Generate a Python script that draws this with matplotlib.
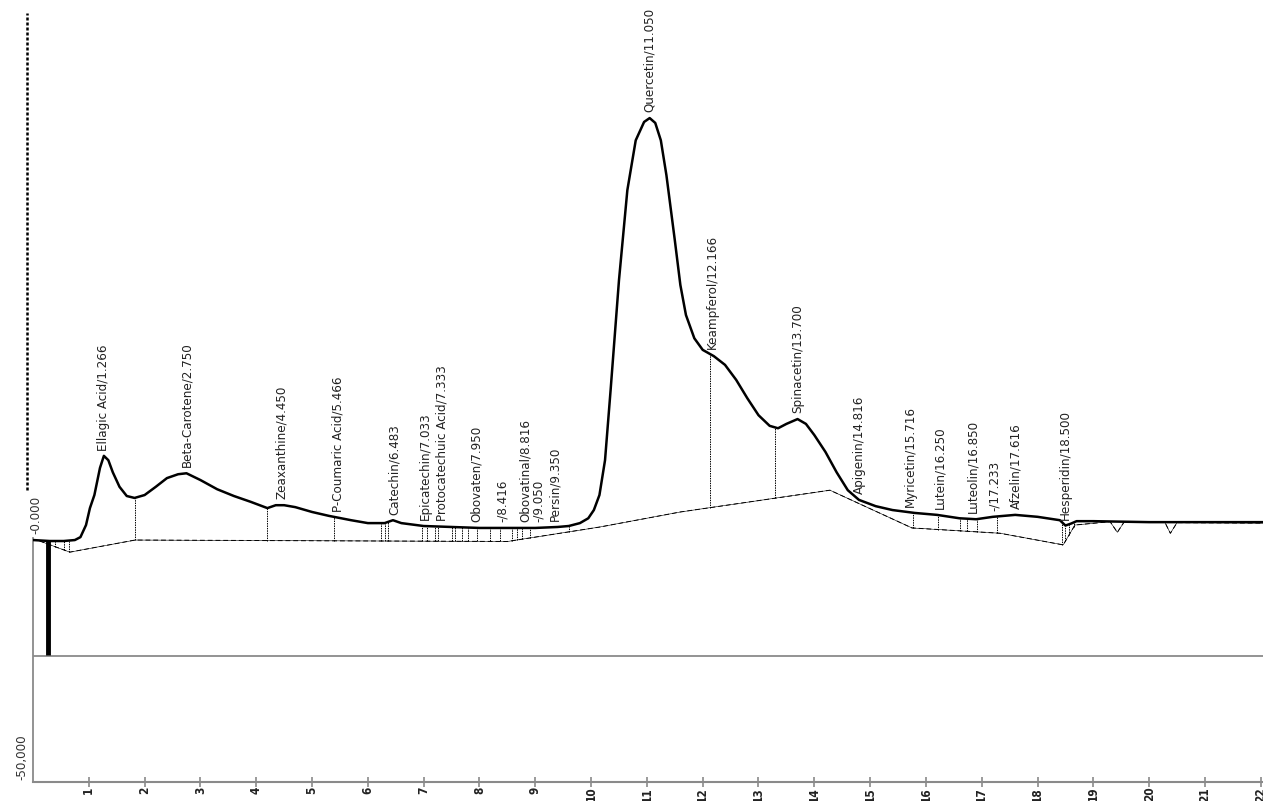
import numpy as np
import matplotlib
matplotlib.use('Agg')
import matplotlib.pyplot as plt

plt.rcParams['font.family'] = ['DejaVu Sans']
plt.rcParams['font.stretch'] = 'condensed'

# ---------------- data (retention time in min, signal in thousands) ----------------
t_sig = [0.0, 0.3, 0.55, 0.75, 0.85, 0.95, 1.02, 1.1, 1.2, 1.27, 1.35, 1.43, 1.55, 1.68,
         1.82, 2.0, 2.2, 2.4, 2.6, 2.75, 3.0, 3.3, 3.6, 3.9, 4.2, 4.35, 4.5, 4.7, 5.0,
         5.3, 5.7, 6.0, 6.3, 6.45, 6.6, 7.0, 7.5, 8.0, 8.5, 9.0, 9.4, 9.6, 9.8, 9.95,
         10.05, 10.15, 10.25, 10.35, 10.5, 10.65, 10.8, 10.95, 11.05, 11.15, 11.25, 11.35,
         11.5, 11.6, 11.7, 11.85, 12.0, 12.2, 12.4, 12.6, 12.8, 13.0, 13.2, 13.35, 13.5,
         13.7, 13.85, 14.0, 14.2, 14.4, 14.6, 14.8, 15.1, 15.4, 15.8, 16.2, 16.6, 16.9,
         17.2, 17.6, 18.0, 18.4, 18.5, 18.6, 18.7, 19.0, 20.0, 21.0, 22.1]
v_sig = [0.0, -0.2, -0.2, 0.0, 0.6, 3.1, 6.6, 9.3, 14.9, 17.4, 16.5, 14.0, 11.0, 9.1,
         8.7, 9.3, 11.0, 12.8, 13.6, 13.8, 12.4, 10.5, 9.1, 7.9, 6.6, 7.2, 7.2, 6.8, 5.8,
         5.0, 4.1, 3.5, 3.5, 4.1, 3.5, 2.9, 2.7, 2.5, 2.5, 2.5, 2.7, 2.9, 3.5, 4.5,
         6.2, 9.3, 16.5, 31.0, 53.7, 72.3, 82.6, 86.4, 87.2, 86.2, 82.6, 75.4,
         62.0, 52.7, 46.5, 41.7, 39.3, 38.0, 36.2, 33.1, 29.3, 25.8, 23.6, 23.1, 24.0,
         25.0, 24.0, 21.7, 18.2, 14.0, 10.3, 8.3, 7.0, 6.2, 5.6, 5.2, 4.5, 4.3,
         4.8, 5.2, 4.8, 4.1, 3.0, 3.4, 3.9, 3.9, 3.7, 3.7, 3.7]

t_base = [0.12, 0.66, 1.83, 8.5, 10.16, 11.6, 14.28, 15.75, 17.33, 18.46, 18.67,
          19.3, 19.43, 19.55, 20.28, 20.38, 20.5, 22.1]
v_base = [-0.2, -2.5, 0.0, -0.3, 2.7, 5.8, 10.3, 2.5, 1.4, -1.0, 3.1,
          3.8, 1.6, 3.7, 3.7, 1.4, 3.6, 3.5]

# integration cut points (drop lines)
cuts = [0.4, 0.55, 0.65, 1.83, 4.2, 5.4, 6.24, 6.3, 6.36, 6.97, 7.06, 7.2, 7.26, 7.51,
        7.56, 7.69, 7.8, 7.96, 8.19, 8.37, 8.58, 8.67, 8.76, 8.9, 9.6, 12.13, 13.3,
        15.76, 16.22, 16.61, 16.74, 16.92, 17.28, 18.44, 18.5, 18.56, 18.65]

peak_names = ['Ellagic Acid', 'Beta-Carotene', 'Zeaxanthine', 'P-Coumaric Acid', 'Catechin',
              'Epicatechin', 'Protocatechuic Acid', 'Obovaten', '-', 'Obovatinal', '-', 'Persin',
              'Quercetin', 'Keampferol', 'Spinacetin', 'Apigenin', 'Myricetin', 'Lutein',
              'Luteolin', '-', 'Afzelin', 'Hesperidin']
peak_times = [1.266, 2.750, 4.450, 5.466, 6.483, 7.033, 7.333, 7.950, 8.416, 8.816, 9.050,
              9.350, 11.050, 12.166, 13.700, 14.816, 15.716, 16.250, 16.850, 17.233, 17.616,
              18.500]

xticks = list(range(1, 23))

# ---------------- figure ----------------
fig = plt.figure(figsize=(12.63, 8.01), dpi=100)
ax = fig.add_axes([33 / 1263, 19 / 801, 1 - 33 / 1263, 1 - 19 / 801])
ax.set_xlim(0, 22.04)
ax.set_ylim(-50, 111.6)
for s in ax.spines.values():
    s.set_visible(False)

# frame lines drawn like the instrument software
ax.axhline(-50, color='#8a8a8a', lw=1.5, clip_on=False)
ax.axhline(-24, color='#8a8a8a', lw=1.3)
ax.plot([0, 0], [-50, 0.5], color='#8a8a8a', lw=1.3, clip_on=False)
ax.plot([-0.107, -0.107], [10.3, 109], color='black', lw=1.8, ls=(0, (1.2, 0.8)), clip_on=False)
ax.plot([0.27, 0.27], [0, -23.8], color='black', lw=3.5, solid_capstyle='butt')

# baseline and drop lines
ax.plot(t_base, v_base, color='black', lw=0.7, ls=(0, (5, 3)))
ax.plot(t_base, v_base, color='black', lw=0.4)
for c in cuts:
    ax.plot([c, c], [np.interp(c, t_base, v_base), np.interp(c, t_sig, v_sig)],
            color='black', lw=0.7, ls=(0, (1.5, 1)))

# chromatogram
ax.plot(t_sig, v_sig, color='black', lw=1.8, solid_joinstyle='round')

# peak labels
for name, pt in zip(peak_names, peak_times):
    ax.text(pt, np.interp(pt, t_sig, v_sig) + 1.2, '%s/%.3f' % (name, pt), rotation=90,
            ha='center', va='bottom', fontsize=9.5, color='#222222')

# axis labels
ax.text(0.05, 1.3, '-0.000', rotation=90, ha='center', va='bottom', fontsize=9.5,
        color='#333333')
ax.text(-0.2, -49.5, '-50,000', rotation=90, ha='center', va='bottom', fontsize=9.5,
        color='#333333', clip_on=False)

ax.set_yticks([])
ax.set_xticks(xticks)
ax.set_xticklabels([str(x) for x in xticks], rotation=90, fontsize=8.5, fontweight='bold',
                   color='#222222')
ax.tick_params(axis='x', direction='inout', length=7, width=1.2, color='#8a8a8a', pad=0)

fig.savefig('out.png', dpi=100)
